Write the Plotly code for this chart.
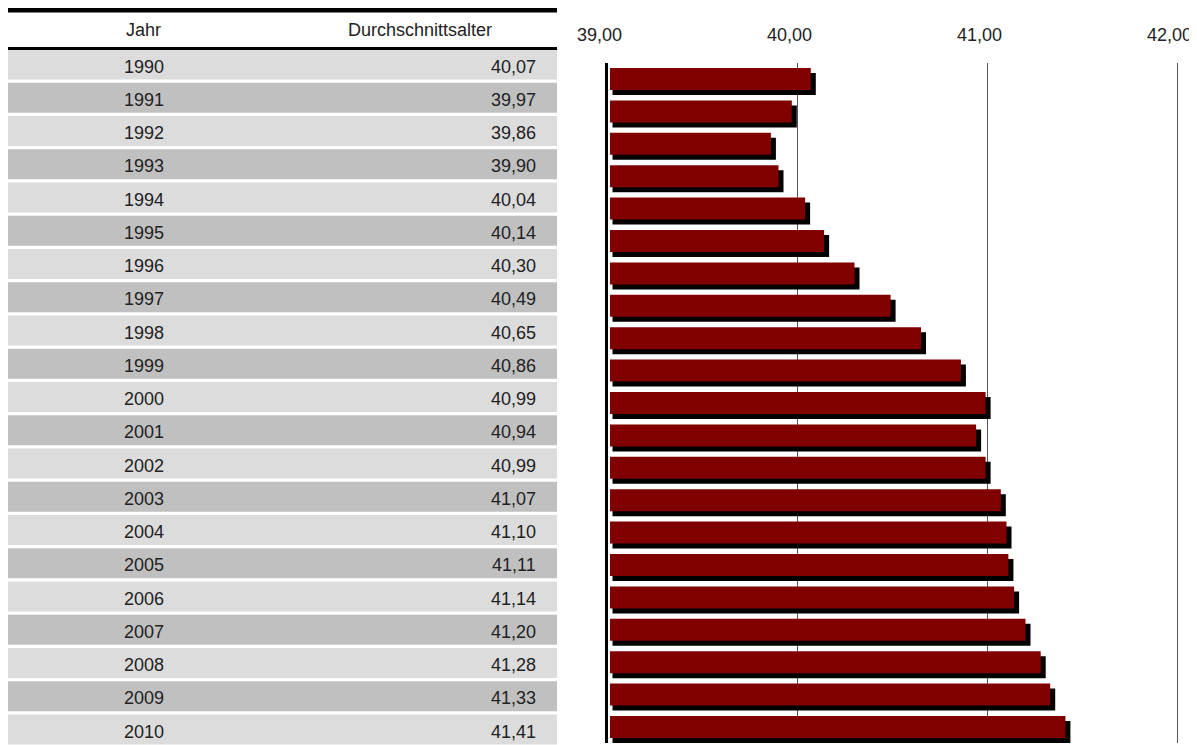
import plotly.graph_objects as go

years = [str(y) for y in range(1990, 2011)]
values = [40.07, 39.97, 39.86, 39.90, 40.04, 40.14, 40.30, 40.49, 40.65, 40.86,
          40.99, 40.94, 40.99, 41.07, 41.10, 41.11, 41.14, 41.20, 41.28, 41.33, 41.41]
value_labels = [f"{v:.2f}".replace(".", ",") for v in values]
header = ["Jahr", "Durchschnittsalter"]
x_ticks = [39, 40, 41, 42]

# page body has an 8px margin: size the figure so it fills the window exactly
OFF = 8
W, H = 1197 - OFF, 745 - OFF


def px(x):
    return min(max((x - OFF) / W, 0), 1)


def py(y):
    return min(max(1 - (y - OFF) / H, 0), 1)


FONT = "Liberation Sans, Arial, sans-serif"
FS = 18
TXT = "#222"
x0_px, x42_px = 607.5, 1177.5
px_per_unit = (x42_px - x0_px) / 3.0
x_end = 42.012
bar_pitch = 32.4
dx = 5 / px_per_unit
dy = 5 / bar_pitch
base_main = 39 + 2.5 / px_per_unit
base_shadow = base_main + 2.5 / px_per_unit

fig = go.Figure()

# table rows
row_colors = ["#dcdcdc" if i % 2 == 0 else "#c0c0c0" for i in range(len(years))]
tab_l, tab_r_px = 5, 557
tab_w = tab_r_px - tab_l
fig.add_trace(go.Bar(
    y=years, x=[1] * len(years), base=0, orientation="h", width=0.9,
    marker=dict(color=row_colors, line=dict(width=0)),
    xaxis="x2", yaxis="y2", hoverinfo="skip", showlegend=False))

# bar chart: shadow then main
fig.add_trace(go.Bar(
    y=years, x=[v + dx - base_shadow for v in values], base=base_shadow,
    orientation="h", width=0.68, offset=-0.34 + dy,
    marker=dict(color="black", line=dict(width=0)),
    xaxis="x", yaxis="y", hoverinfo="skip", showlegend=False))
fig.add_trace(go.Bar(
    y=years, x=[v - base_main for v in values], base=base_main,
    orientation="h", width=0.68, offset=-0.34,
    marker=dict(color="#800000", line=dict(width=0)),
    xaxis="x", yaxis="y", showlegend=False))

tab_top = 47.9
tab_pitch = 33.25
tab_r = (745 - tab_top) / tab_pitch - 0.5

annotations = [
    dict(text=header[0], x=px(143.5), y=py(30), xref="paper", yref="paper",
         showarrow=False, xanchor="center", yanchor="middle",
         font=dict(family=FONT, size=FS, color=TXT)),
    dict(text=header[1], x=px(420), y=py(30), xref="paper", yref="paper",
         showarrow=False, xanchor="center", yanchor="middle",
         font=dict(family=FONT, size=FS, color=TXT)),
]
for idx, (yr, lab) in enumerate(zip(years, value_labels)):
    annotations.append(dict(
        text=yr, x=(143.5 - tab_l) / tab_w, y=idx, xref="x2", yref="y2",
        showarrow=False, xanchor="center", yanchor="middle", yshift=-2,
        font=dict(family=FONT, size=FS, color=TXT)))
    annotations.append(dict(
        text=lab, x=(538 - tab_l) / tab_w, y=idx, xref="x2", yref="y2",
        showarrow=False, xanchor="right", yanchor="middle", yshift=-2,
        font=dict(family=FONT, size=FS, color=TXT)))

fig.update_layout(
    width=W, height=H, margin=dict(l=0, r=0, t=0, b=0, autoexpand=False),
    paper_bgcolor="white", plot_bgcolor="white",
    barmode="overlay", separators=",.",
    font=dict(family=FONT, size=FS, color=TXT),
    xaxis=dict(domain=[px(x0_px), px(x42_px + (x_end - 42) * px_per_unit)],
               range=[39, x_end], side="top",
               tickvals=x_ticks, tickformat=".2f", showgrid=True,
               gridcolor="#555", gridwidth=1, zeroline=False, showline=False,
               ticks="", ticklabelstandoff=17, ticklabelshift=-8,
               automargin=False,
               tickfont=dict(family=FONT, size=FS, color=TXT), anchor="y"),
    yaxis=dict(domain=[py(743.2), py(62.8)], type="category",
               categoryarray=years, range=[20.5, -0.5], showticklabels=False,
               showgrid=False, showline=True, linewidth=3, linecolor="black",
               zeroline=False, anchor="x", automargin=False),
    xaxis2=dict(domain=[0, px(tab_r_px)], range=[(OFF - tab_l) / tab_w, 1],
                visible=False, anchor="y2", automargin=False),
    yaxis2=dict(domain=[0, py(tab_top)], type="category",
                categoryarray=years, range=[tab_r, -0.5], visible=False,
                anchor="x2", automargin=False),
    annotations=annotations,
    shapes=[
        dict(type="line", xref="paper", yref="paper", x0=0, x1=px(tab_r_px),
             y0=py(10), y1=py(10), line=dict(color="black", width=5)),
        dict(type="line", xref="paper", yref="paper", x0=0, x1=px(tab_r_px),
             y0=py(48.5), y1=py(48.5), line=dict(color="black", width=3)),
    ],
)

fig.write_html("out.html")
